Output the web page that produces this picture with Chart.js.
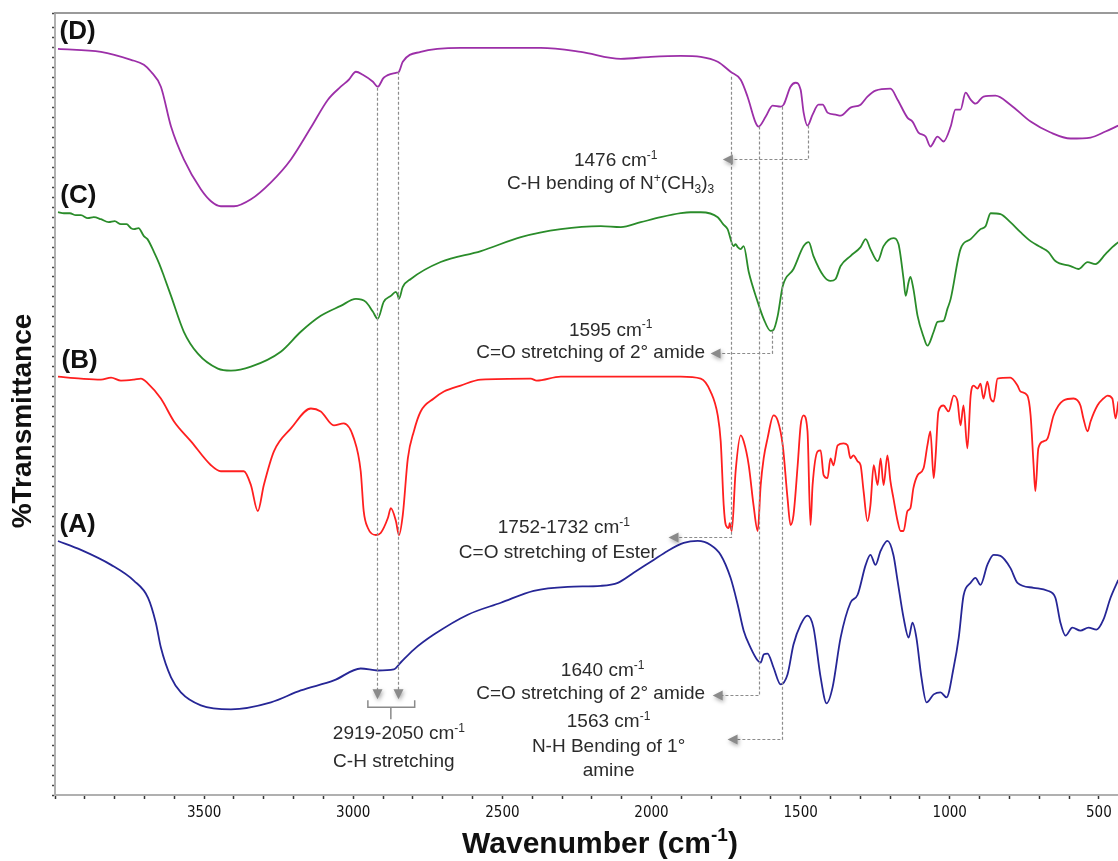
<!DOCTYPE html>
<html>
<head>
<meta charset="utf-8">
<script src="https://cdn.jsdelivr.net/npm/chart.js@4.4.1/dist/chart.umd.min.js"></script>
<style>
html, body { margin: 0; padding: 0; background: #fff; }
#ftirChart { display: block; }
</style>
</head>
<body>
<canvas id="ftirChart" width="1118" height="861"></canvas>
<script>
// FTIR spectra, wavenumber (cm-1) against offset %T (curves are stacked, axis unlabelled)
var seriesNames = ['(A)', '(B)', '(C)', '(D)'];
var xTickLabels = [3500, 3000, 2500, 2000, 1500, 1000, 500];

// (A) blue
var waveA = [3990, 3913, 3812, 3735, 3688, 3662, 3645, 3611, 3578, 3511,
    3410, 3276, 3176, 3065, 2975, 2918, 2864, 2841, 2797, 2730,
    2616, 2505, 2395, 2281, 2170, 2113, 2060, 1993, 1946, 1892,
    1845, 1802, 1768, 1735, 1711, 1691, 1668, 1644, 1634, 1624,
    1611, 1591, 1567, 1544, 1524, 1500, 1477, 1457, 1433, 1413,
    1393, 1366, 1333, 1309, 1282, 1266, 1249, 1232, 1209, 1189,
    1175, 1155, 1138, 1125, 1112, 1095, 1078, 1054, 1031, 1011,
    987, 970, 954, 930, 914, 897, 874, 853, 830, 797,
    773, 719, 672, 646, 629, 612, 589, 562, 535, 508,
    485, 461, 435];
var transA = [25.5, 24.6, 23.1, 21.5, 19.8, 17.3, 14.8, 11.8, 10.3, 9.0,
    8.6, 9.3, 10.5, 11.5, 12.7, 12.5, 12.6, 13.3, 14.6, 16.1,
    18.1, 19.3, 20.5, 20.9, 21.0, 21.3, 22.3, 23.6, 24.5, 25.3,
    25.5, 25.1, 24.1, 21.8, 19.1, 16.5, 14.8, 13.5, 13.3, 14.1,
    14.2, 12.8, 11.1, 12.1, 15.1, 17.1, 18.0, 16.8, 11.8, 9.2,
    10.8, 15.8, 19.3, 20.1, 23.1, 24.1, 23.1, 24.5, 25.5, 24.1,
    21.5, 17.8, 15.8, 17.3, 15.8, 11.8, 9.3, 10.1, 10.3, 9.8,
    12.8, 15.8, 20.0, 21.3, 21.8, 21.1, 23.1, 24.1, 24.0, 22.8,
    21.3, 20.8, 20.5, 19.8, 17.3, 16.0, 16.8, 16.5, 16.8, 16.6,
    17.6, 19.8, 21.6];

// (B) red
var waveB = [3990, 3913, 3846, 3812, 3779, 3735, 3712, 3688, 3645, 3601,
    3544, 3477, 3444, 3367, 3343, 3320, 3300, 3266, 3209, 3142,
    3109, 3065, 3032, 2998, 2975, 2965, 2951, 2924, 2908, 2884,
    2874, 2857, 2847, 2834, 2817, 2797, 2774, 2730, 2696, 2640,
    2572, 2405, 2385, 2304, 2170, 1902, 1835, 1802, 1778, 1768,
    1758, 1751, 1741, 1738, 1731, 1718, 1701, 1691, 1674, 1658,
    1644, 1634, 1624, 1611, 1591, 1577, 1560, 1544, 1534, 1524,
    1510, 1500, 1490, 1477, 1467, 1460, 1443, 1433, 1423, 1410,
    1400, 1390, 1376, 1356, 1343, 1333, 1323, 1309, 1299, 1289,
    1276, 1266, 1255, 1242, 1232, 1222, 1209, 1199, 1189, 1175,
    1165, 1155, 1142, 1132, 1122, 1108, 1088, 1075, 1065, 1054,
    1048, 1038, 1021, 1004, 987, 974, 964, 954, 941, 930,
    920, 907, 897, 887, 874, 863, 853, 840, 797, 773,
    763, 740, 729, 719, 713, 703, 686, 672, 652, 619,
    585, 562, 552, 538, 528, 505, 485, 471, 455, 444,
    435];
var transB = [42.0, 41.8, 41.7, 41.9, 41.6, 41.7, 41.8, 41.3, 39.8, 37.5,
    35.5, 33.1, 32.5, 32.5, 31.1, 28.5, 31.1, 34.5, 36.8, 38.8,
    38.5, 37.1, 37.3, 35.8, 32.5, 28.5, 26.8, 26.1, 26.3, 27.8,
    28.8, 27.5, 26.1, 28.1, 33.8, 36.5, 38.5, 39.8, 40.5, 41.1,
    41.7, 41.8, 41.6, 42.0, 42.0, 42.0, 41.8, 40.5, 38.1, 35.5,
    29.1, 27.1, 26.8, 27.3, 26.5, 32.5, 36.1, 35.5, 33.1, 29.1,
    26.5, 31.1, 33.8, 35.8, 38.1, 37.6, 35.1, 29.8, 27.1, 28.1,
    33.1, 37.1, 38.1, 36.5, 27.1, 31.1, 34.5, 34.6, 32.1, 31.8,
    33.8, 33.1, 35.1, 35.3, 35.1, 33.8, 34.1, 33.5, 33.1, 30.5,
    27.5, 29.1, 33.1, 31.1, 33.8, 31.1, 34.1, 31.5, 29.8, 27.5,
    26.5, 26.5, 28.5, 28.8, 30.8, 32.1, 32.8, 35.1, 36.5, 31.8,
    33.8, 38.5, 39.1, 38.5, 40.1, 39.5, 37.1, 39.1, 34.8, 40.1,
    41.1, 40.8, 41.3, 39.8, 41.5, 39.8, 39.5, 41.8, 41.9, 41.1,
    40.5, 40.1, 38.1, 33.1, 30.5, 34.8, 35.5, 35.8, 38.1, 39.6,
    39.8, 39.1, 37.8, 36.5, 37.5, 39.1, 39.8, 40.1, 39.8, 37.8,
    39.5];

// (C) green
var waveC = [3990, 3970, 3950, 3930, 3913, 3890, 3870, 3846, 3820, 3800,
    3779, 3760, 3745, 3735, 3720, 3702, 3690, 3668, 3650, 3635,
    3611, 3568, 3521, 3454, 3410, 3343, 3243, 3176, 3109, 3042,
    2991, 2958, 2934, 2918, 2898, 2874, 2857, 2851, 2847, 2834,
    2807, 2707, 2572, 2438, 2304, 2170, 2103, 2036, 1969, 1902,
    1869, 1835, 1778, 1760, 1745, 1725, 1718, 1711, 1701, 1691,
    1674, 1644, 1624, 1601, 1591, 1577, 1560, 1524, 1490, 1473,
    1457, 1423, 1400, 1383, 1366, 1333, 1299, 1282, 1266, 1242,
    1222, 1189, 1172, 1155, 1148, 1138, 1132, 1122, 1108, 1088,
    1075, 1054, 1041, 1021, 1008, 997, 964, 930, 897, 880,
    863, 830, 797, 763, 729, 696, 669, 646, 595, 569,
    538, 512, 478, 455, 435];
var transC = [58.5, 58.4, 58.4, 58.2, 58.2, 57.9, 58.0, 57.8, 57.5, 57.6,
    57.3, 57.3, 56.9, 56.8, 56.9, 56.1, 55.8, 54.5, 53.3, 52.1,
    50.1, 46.5, 44.3, 42.8, 42.6, 43.0, 44.5, 46.5, 48.1, 49.1,
    49.8, 49.5, 48.5, 47.8, 49.5, 50.1, 50.5, 50.2, 49.8, 51.0,
    51.8, 53.5, 54.6, 56.0, 56.8, 57.1, 57.0, 57.5, 58.0, 58.4,
    58.5, 58.5, 58.0, 57.3, 56.8, 55.1, 55.3, 55.0, 54.8, 55.1,
    52.5, 49.5, 47.8, 46.6, 46.7, 48.1, 51.1, 52.8, 55.1, 55.5,
    54.1, 52.1, 51.6, 51.8, 53.1, 54.1, 55.0, 55.8, 54.8, 53.6,
    55.1, 55.9, 55.3, 51.8, 50.1, 51.5, 52.0, 50.8, 48.1, 46.0,
    45.1, 46.5, 47.5, 47.6, 48.8, 49.8, 54.8, 55.8, 56.8, 57.1,
    58.4, 58.3, 57.5, 56.5, 55.6, 55.0, 54.5, 53.6, 53.1, 52.8,
    53.5, 53.3, 54.3, 55.0, 55.5];

// (D) purple
var waveD = [3990, 3846, 3745, 3702, 3678, 3645, 3611, 3568, 3511, 3477,
    3444, 3400, 3343, 3276, 3209, 3142, 3085, 3042, 3015, 2991,
    2968, 2934, 2918, 2898, 2857, 2847, 2834, 2774, 2640, 2371,
    2237, 2103, 2003, 1902, 1835, 1778, 1735, 1701, 1678, 1651,
    1641, 1617, 1594, 1567, 1557, 1534, 1517, 1500, 1490, 1477,
    1460, 1440, 1426, 1410, 1383, 1366, 1333, 1299, 1276, 1249,
    1199, 1175, 1142, 1125, 1105, 1081, 1065, 1041, 1021, 997,
    981, 964, 947, 930, 914, 887, 847, 797, 729, 662,
    595, 528, 478, 435];
var transD = [74.9, 74.6, 73.8, 73.3, 72.6, 71.1, 67.1, 63.8, 60.8, 59.6,
    59.1, 59.1, 59.8, 61.5, 63.8, 67.0, 69.8, 71.1, 71.8, 72.6,
    72.3, 71.6, 71.1, 72.0, 72.5, 72.6, 73.6, 74.6, 75.0, 75.0,
    74.6, 73.9, 74.1, 74.2, 74.1, 73.6, 72.6, 71.8, 70.1, 67.5,
    67.1, 68.1, 69.2, 69.1, 69.3, 71.1, 71.5, 70.8, 68.5, 67.2,
    68.3, 69.3, 69.3, 68.5, 68.3, 68.2, 69.0, 69.3, 70.1, 70.7,
    70.9, 69.8, 68.0, 67.6, 66.5, 66.1, 65.1, 66.1, 65.6, 67.1,
    68.8, 68.8, 70.5, 69.8, 69.4, 70.1, 70.2, 69.3, 67.6, 66.5,
    65.9, 66.0, 66.6, 67.2];

// peak annotations, given in wavenumber / %T so they go through the scales
var dropLines = [
    { w: 2919, from: 71.0, to: 9.6 },
    { w: 2850, from: 72.6, to: 9.6 }
];
var elbowLines = [
    { w: 1476, from: 67.2, at: 63.8, toW: 1761 },
    { w: 1595, from: 46.6, at: 44.4, toW: 1802 },
    { w: 1732, from: 72.1, at: 25.9, toW: 1943 },
    { w: 1640, from: 67.1, at: 10.0, toW: 1795 },
    { w: 1563, from: 69.1, at: 5.6, toW: 1745 }
];
var bracket = { fromW: 2951, toW: 2794, v: 8.8, lipV: 9.5, stemW: 2874, stemV: 7.6 };
var noteTexts = [
    { w: 2847, v: 6.3, s: '2919-2050 cm^{-1}' },
    { w: 2864, v: 3.5, s: 'C-H stretching' },
    { w: 2120, v: 63.8, s: '1476 cm^{-1}' },
    { w: 2137, v: 61.5, s: 'C-H bending of N^{+}(CH_{3})_{3}' },
    { w: 2137, v: 46.8, s: '1595 cm^{-1}' },
    { w: 2204, v: 44.6, s: 'C=O stretching of 2° amide' },
    { w: 2294, v: 27.0, s: '1752-1732 cm^{-1}' },
    { w: 2314, v: 24.5, s: 'C=O stretching of Ester' },
    { w: 2164, v: 12.6, s: '1640 cm^{-1}' },
    { w: 2204, v: 10.3, s: 'C=O stretching of 2° amide' },
    { w: 2144, v: 7.5, s: '1563 cm^{-1}' },
    { w: 2144, v: 5.0, s: 'N-H Bending of 1°' },
    { w: 2144, v: 2.6, s: 'amine' }
];
var seriesLabelPos = [
    { w: 3985, v: 27.1 },
    { w: 3978, v: 43.6 },
    { w: 3982, v: 60.1 },
    { w: 3985, v: 76.6 }
];

var sansFamily = '"Liberation Sans", Arial, sans-serif';
var narrowFamily = '"Liberation Sans Narrow", "DejaVu Sans Condensed", "Liberation Sans", sans-serif';

function points(wave, trans) {
    var out = [];
    for (var i = 0; i < Math.min(wave.length, trans.length); i++) {
        out.push({ x: wave[i], y: trans[i] });
    }
    return out;
}

// draws text with ^{sup} and _{sub} parts, centred on cx / cy
function richText(ctx, str, cx, cy, size, weight) {
    var parts = [];
    var re = /\^\{([^}]*)\}|_\{([^}]*)\}|[^\^_]+/g;
    var m;
    while ((m = re.exec(str))) {
        if (m[1] !== undefined) parts.push({ t: m[1], k: 'sup' });
        else if (m[2] !== undefined) parts.push({ t: m[2], k: 'sub' });
        else parts.push({ t: m[0], k: '' });
    }
    function font(p) {
        return weight + ' ' + (p.k ? Math.round(size * 0.62) : size) + 'px ' + sansFamily;
    }
    var total = 0;
    parts.forEach(function (p) {
        ctx.font = font(p);
        p.w = ctx.measureText(p.t).width;
        total += p.w;
    });
    var x = cx - total / 2;
    var base = cy + size * 0.36;
    ctx.textAlign = 'left';
    ctx.textBaseline = 'alphabetic';
    parts.forEach(function (p) {
        ctx.font = font(p);
        var dy = p.k === 'sup' ? -size * 0.38 : (p.k === 'sub' ? size * 0.22 : 0);
        ctx.fillText(p.t, x, base + dy);
        x += p.w;
    });
}

function arrowHead(ctx, x, y, dir) {
    ctx.save();
    ctx.setLineDash([]);
    ctx.shadowColor = 'rgba(0,0,0,0.35)';
    ctx.shadowBlur = 4;
    ctx.shadowOffsetX = 1;
    ctx.shadowOffsetY = 2;
    ctx.fillStyle = '#8a8a8a';
    ctx.beginPath();
    if (dir === 'left') {
        ctx.moveTo(x, y);
        ctx.lineTo(x + 10, y - 5);
        ctx.lineTo(x + 10, y + 5);
    } else {
        ctx.moveTo(x, y);
        ctx.lineTo(x - 5, y - 10);
        ctx.lineTo(x + 5, y - 10);
    }
    ctx.closePath();
    ctx.fill();
    ctx.restore();
}

var notesPlugin = {
    id: 'ftirNotes',
    afterDatasetsDraw: function (chart) {
        var ctx = chart.ctx;
        var xs = chart.scales.x;
        var ys = chart.scales.y;
        var area = chart.chartArea;

        ctx.save();
        // top frame line
        ctx.strokeStyle = '#9a9a9a';
        ctx.lineWidth = 2;
        ctx.beginPath();
        ctx.moveTo(area.left - 1, area.top);
        ctx.lineTo(area.right, area.top);
        ctx.stroke();

        // dashed guide lines
        ctx.strokeStyle = '#8c8c8c';
        ctx.lineWidth = 1.2;
        ctx.setLineDash([3, 2]);
        dropLines.forEach(function (d) {
            var x = Math.round(xs.getPixelForValue(d.w)) + 0.5;
            var tip = ys.getPixelForValue(d.to);
            ctx.beginPath();
            ctx.moveTo(x, ys.getPixelForValue(d.from));
            ctx.lineTo(x, tip - 8);
            ctx.stroke();
        });
        elbowLines.forEach(function (e) {
            var x = Math.round(xs.getPixelForValue(e.w)) + 0.5;
            var y = Math.round(ys.getPixelForValue(e.at)) + 0.5;
            var x2 = xs.getPixelForValue(e.toW);
            ctx.beginPath();
            ctx.moveTo(x, ys.getPixelForValue(e.from));
            ctx.lineTo(x, y);
            ctx.lineTo(x2 + 8, y);
            ctx.stroke();
        });
        ctx.setLineDash([]);
        dropLines.forEach(function (d) {
            arrowHead(ctx, Math.round(xs.getPixelForValue(d.w)) + 0.5, ys.getPixelForValue(d.to), 'down');
        });
        elbowLines.forEach(function (e) {
            arrowHead(ctx, xs.getPixelForValue(e.toW), Math.round(ys.getPixelForValue(e.at)) + 0.5, 'left');
        });

        // bracket under the C-H arrows
        ctx.strokeStyle = '#8a8a8a';
        ctx.lineWidth = 1.5;
        var bx1 = xs.getPixelForValue(bracket.fromW);
        var bx2 = xs.getPixelForValue(bracket.toW);
        var by = ys.getPixelForValue(bracket.v);
        var bl = ys.getPixelForValue(bracket.lipV);
        var bs = xs.getPixelForValue(bracket.stemW);
        ctx.beginPath();
        ctx.moveTo(bx1, bl);
        ctx.lineTo(bx1, by);
        ctx.lineTo(bx2, by);
        ctx.lineTo(bx2, bl);
        ctx.moveTo(bs, by);
        ctx.lineTo(bs, ys.getPixelForValue(bracket.stemV));
        ctx.stroke();

        // annotation text
        ctx.fillStyle = '#2b2b2b';
        noteTexts.forEach(function (n) {
            richText(ctx, n.s, xs.getPixelForValue(n.w), ys.getPixelForValue(n.v), 19, 'normal');
        });

        // (A)...(D)
        ctx.fillStyle = '#111';
        ctx.font = 'bold 26px ' + sansFamily;
        ctx.textAlign = 'left';
        ctx.textBaseline = 'middle';
        seriesNames.forEach(function (name, i) {
            ctx.fillText(name, xs.getPixelForValue(seriesLabelPos[i].w), ys.getPixelForValue(seriesLabelPos[i].v));
        });

        // axis titles
        ctx.fillStyle = '#111';
        richText(ctx, 'Wavenumber (cm^{-1})', area.left + 545, area.bottom + 47, 30, 'bold');
        ctx.save();
        ctx.translate(area.left - 32, area.top + 408);
        ctx.rotate(-Math.PI / 2);
        ctx.font = 'bold 28px ' + sansFamily;
        ctx.textAlign = 'center';
        ctx.textBaseline = 'middle';
        ctx.fillText('%Transmittance', 0, 0);
        ctx.restore();

        ctx.restore();
    }
};

var ctx = document.getElementById('ftirChart').getContext('2d');
var ftirChart = new Chart(ctx, {
    type: 'line',
    data: {
        datasets: [
            { label: seriesNames[0], data: points(waveA, transA), borderColor: '#262696' },
            { label: seriesNames[1], data: points(waveB, transB), borderColor: '#ff1f1f' },
            { label: seriesNames[2], data: points(waveC, transC), borderColor: '#2a8c2a' },
            { label: seriesNames[3], data: points(waveD, transD), borderColor: '#9c2fa8' }
        ]
    },
    options: {
        responsive: false,
        animation: false,
        devicePixelRatio: 1,
        layout: { padding: { left: 52, top: 13, right: 0, bottom: 34 } },
        elements: {
            point: { radius: 0 },
            line: { borderWidth: 1.8, cubicInterpolationMode: 'monotone', fill: false }
        },
        plugins: {
            legend: { display: false },
            tooltip: { enabled: false }
        },
        scales: {
            x: {
                type: 'linear',
                reverse: true,
                min: 436,
                max: 4000,
                afterBuildTicks: function (scale) {
                    scale.ticks = scale.ticks.filter(function (t) { return t.value % 100 === 0; });
                },
                ticks: {
                    stepSize: 100,
                    includeBounds: false,
                    autoSkip: false,
                    maxRotation: 0,
                    padding: 5,
                    color: '#111',
                    font: { family: narrowFamily, size: 15 },
                    callback: function (v) {
                        return xTickLabels.indexOf(v) >= 0 ? String(v) : '';
                    }
                },
                grid: { drawOnChartArea: false, tickLength: 4, tickColor: '#333', tickWidth: 1.5 },
                border: { color: '#b0b0b0', width: 2 }
            },
            y: {
                min: 0,
                max: 78.5,
                ticks: { display: false, stepSize: 1 },
                grid: { drawOnChartArea: false, tickLength: 3, tickColor: '#444', tickWidth: 1.5 },
                border: { color: '#b0b0b0', width: 2 }
            }
        }
    },
    plugins: [notesPlugin]
});
</script>
</body>
</html>
